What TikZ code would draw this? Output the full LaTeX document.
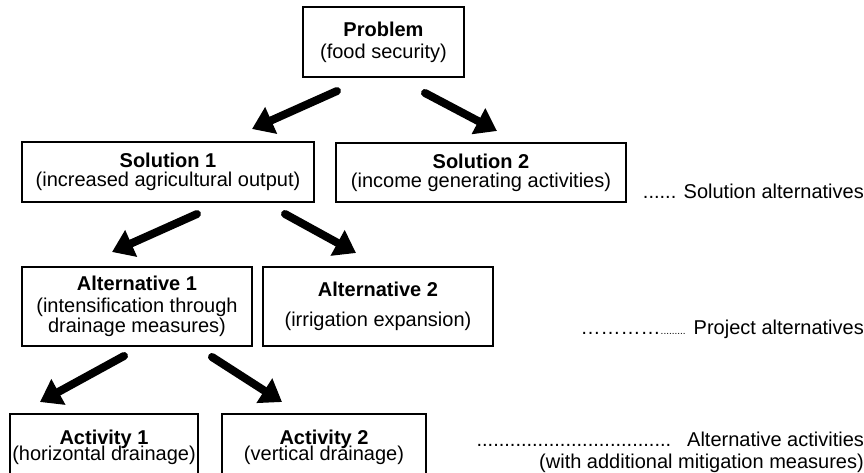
\documentclass[tikz,border=0pt]{standalone}
\usepackage{fontspec}
\setmainfont{Liberation Sans}
\usetikzlibrary{arrows.meta,calc}

\tikzset{
    box/.style={draw, line width=2pt, inner sep=0pt, align=center,
        font=\fontsize{20}{20}\selectfont},
    bigarrow/.style={line width=8pt, line cap=round,
        -{Triangle[length=21pt,width=28pt]}},
    levellabel/.style={anchor=base east, inner sep=0pt,
        font=\fontsize{20}{20}\selectfont}
}

\begin{document}
\begin{tikzpicture}[x=1pt,y=-1pt]
    \useasboundingbox (0,0) rectangle (864,473);
    \clip (0,0) rectangle (864,473);

    % boxes
    \node[box, minimum width=161pt, minimum height=70pt] (problem) at (383.5,42)
        {\textbf{Problem}\\[2pt](food security)};
    \node[box, minimum width=292pt, minimum height=60pt] (sol1) at (168,172)
        {\textbf{Solution 1}\\[-1pt](increased agricultural output)};
    \node[box, minimum width=290pt, minimum height=59pt] (sol2) at (481,172.5)
        {\textbf{Solution 2}\\[-1pt](income generating activities)};
    \node[box, minimum width=230pt, minimum height=79pt] (alt1) at (137,306.5)
        {\textbf{Alternative 1}\\[2pt](intensification through\\drainage measures)};
    \node[box, minimum width=230pt, minimum height=79pt] (alt2) at (378,306.5)
        {\textbf{Alternative 2}\\[10pt](irrigation expansion)};
    \node[box, anchor=north, minimum width=188pt, minimum height=66pt] (act1) at (104,413)
        {\textbf{Activity 1}\\[-4pt](horizontal drainage)};
    \node[box, anchor=north, minimum width=204pt, minimum height=66pt] (act2) at (324,413)
        {\textbf{Activity 2}\\[-4pt](vertical drainage)};

    % arrows
    \draw[bigarrow] ($(problem.south)+(-46.5,13)$) -- ($(sol1.north)+(84,-12)$);
    \draw[bigarrow] ($(problem.south)+(41.5,15)$) -- ($(sol2.north)+(16,-11)$);
    \draw[bigarrow] ($(sol1.south)+(29,11)$) -- ($(alt1.north)+(-25,-14)$);
    \draw[bigarrow] ($(sol1.south)+(117,11)$) -- ($(alt2.north)+(-22,-13)$);
    \draw[bigarrow] ($(alt1.south)+(-13,9)$) -- ($(act1.north)+(-64,-11)$);
    \draw[bigarrow] ($(alt1.south)+(75,10)$) -- ($(act2.north)+(-42,-11)$);

    % level labels
    \node[levellabel] (sollevel) at (864,199) {...... Solution alternatives};
    \node[levellabel] (projlevel) at (864,334)
        {…………{\fontsize{10}{10}\selectfont .........}\hspace{8pt}Project alternatives};
    \node[levellabel] (actlevel) at (864,446)
        {...................................\hspace{16pt}Alternative activities};
    \node[levellabel] (mitlevel) at (864,468)
        {(with additional mitigation measures)};
\end{tikzpicture}
\end{document}
